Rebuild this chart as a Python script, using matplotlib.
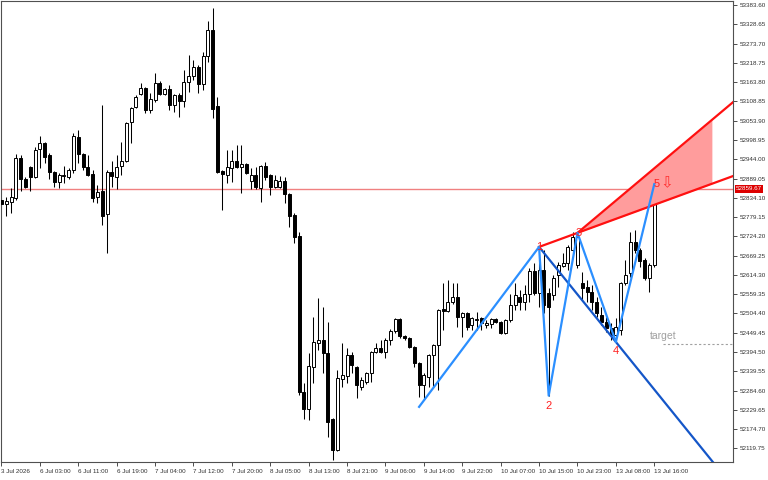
import numpy as np
import matplotlib
matplotlib.use('Agg')
import matplotlib.pyplot as plt

plt.rcParams['font.family'] = ['Liberation Sans', 'DejaVu Sans']

# H1 candles (open, high, low, close)
opens = [52828, 52816, 52822, 52834, 52948, 52888, 52922, 52893, 52973, 52990,
         52956, 52908, 52879, 52896, 52893, 52913, 53007, 52959, 52922, 52902,
         52836, 52854, 52788, 52908, 52893, 52925, 52939, 53050, 53093, 53130,
         53147, 53084, 53113, 53161, 53130, 53144, 53099, 53127, 53110, 53164,
         53181, 53207, 53159, 53238, 53312, 53096, 52910, 52899, 52919, 52939,
         52922, 52930, 52882, 52899, 52862, 52925, 52899, 52865, 52865, 52882,
         52845, 52785, 52725, 52280, 52232, 52352, 52420, 52429, 52392, 52203,
         52115, 52317, 52326, 52386, 52352, 52295, 52309, 52335, 52394, 52406,
         52394, 52429, 52454, 52489, 52440, 52434, 52409, 52363, 52300, 52323,
         52386, 52414, 52517, 52511, 52537, 52551, 52494, 52506, 52471, 52486,
         52491, 52471, 52474, 52489, 52480, 52449, 52486, 52528, 52551, 52537,
         52560, 52625, 52563, 52628, 52563, 52557, 52614, 52640, 52648, 52685,
         52643, 52591, 52580, 52565, 52537, 52500, 52480, 52463, 52443, 52457,
         52591, 52620, 52708, 52685, 52657, 52605, 52643, 52848]
highs = [52834, 52836, 52862, 52959, 52956, 52893, 52925, 52979, 53010, 52993,
         52962, 52911, 52905, 52925, 52919, 53019, 53027, 52962, 52956, 52913,
         52871, 53099, 52913, 52939, 52956, 52993, 53050, 53093, 53127, 53161,
         53150, 53133, 53190, 53167, 53147, 53156, 53130, 53133, 53198, 53241,
         53227, 53213, 53250, 53338, 53375, 53121, 52913, 52970, 52970, 52985,
         52985, 52933, 52919, 52922, 52928, 52936, 52902, 52899, 52896, 52893,
         52848, 52791, 52737, 52306, 52392, 52494, 52548, 52523, 52480, 52206,
         52343, 52420, 52406, 52394, 52355, 52323, 52338, 52397, 52420, 52429,
         52434, 52460, 52491, 52491, 52443, 52437, 52412, 52366, 52335, 52389,
         52417, 52517, 52591, 52600, 52591, 52591, 52508, 52508, 52494, 52508,
         52494, 52486, 52491, 52491, 52483, 52489, 52560, 52591, 52571, 52585,
         52634, 52648, 52694, 52685, 52577, 52614, 52651, 52677, 52700, 52737,
         52734, 52623, 52600, 52585, 52551, 52523, 52494, 52477, 52491, 52594,
         52657, 52737, 52742, 52691, 52662, 52648, 52871, 52865]
lows = [52811, 52782, 52791, 52828, 52854, 52862, 52854, 52891, 52919, 52933,
        52888, 52865, 52862, 52876, 52888, 52905, 52933, 52913, 52896, 52822,
        52819, 52757, 52677, 52865, 52859, 52899, 52936, 52990, 53090, 53127,
        53076, 53076, 53107, 53127, 53127, 53084, 53079, 53064, 53093, 53136,
        53170, 53133, 53141, 53221, 53062, 52905, 52799, 52876, 52879, 52919,
        52848, 52902, 52859, 52859, 52822, 52885, 52842, 52862, 52862, 52819,
        52751, 52705, 52272, 52203, 52201, 52306, 52400, 52335, 52152, 52087,
        52112, 52295, 52306, 52335, 52263, 52286, 52303, 52309, 52392, 52392,
        52377, 52414, 52449, 52434, 52429, 52406, 52352, 52266, 52258, 52295,
        52295, 52286, 52457, 52508, 52531, 52466, 52437, 52457, 52457, 52457,
        52457, 52463, 52463, 52477, 52446, 52446, 52480, 52514, 52514, 52514,
        52537, 52557, 52523, 52506, 52270, 52543, 52580, 52637, 52628, 52671,
        52634, 52543, 52537, 52514, 52494, 52471, 52452, 52429, 52420, 52443,
        52585, 52608, 52677, 52637, 52600, 52565, 52637, 52848]
closes = [52816, 52825, 52836, 52948, 52888, 52865, 52893, 52970, 52990, 52950,
          52908, 52879, 52899, 52899, 52913, 53010, 52959, 52922, 52899, 52834,
          52851, 52782, 52908, 52896, 52922, 52939, 53047, 53090, 53121, 53147,
          53084, 53116, 53161, 53130, 53144, 53099, 53127, 53110, 53164, 53181,
          53207, 53159, 53238, 53312, 53087, 52908, 52902, 52922, 52939, 52922,
          52930, 52905, 52899, 52865, 52925, 52893, 52865, 52885, 52882, 52845,
          52782, 52722, 52280, 52232, 52355, 52423, 52429, 52392, 52195, 52115,
          52320, 52329, 52386, 52357, 52300, 52315, 52335, 52394, 52406, 52394,
          52429, 52454, 52489, 52440, 52434, 52409, 52363, 52300, 52329, 52386,
          52414, 52514, 52511, 52537, 52551, 52494, 52506, 52466, 52491, 52489,
          52477, 52477, 52489, 52480, 52449, 52486, 52528, 52557, 52537, 52560,
          52625, 52563, 52628, 52528, 52523, 52605, 52643, 52648, 52694, 52722,
          52722, 52577, 52565, 52537, 52506, 52480, 52463, 52443, 52466, 52591,
          52614, 52708, 52685, 52654, 52605, 52643, 52848, 52859.67]

# pattern pivots X,1,2,3,4,5 (bar index, price)
piv_idx = [87, 112, 114, 120, 128, 136]
piv_price = [52238, 52694, 52270, 52734, 52423, 52873]
piv_names = ['', '1', '2', '3', '4', '5']
upper_slope = 11.5      # price per bar of the upper red ray
fill_end = 148          # bar where the red zone stops
target = 52417
last_price = 52859.67

x_labels = ['3 Jul 2026', '6 Jul 03:00', '6 Jul 11:00', '6 Jul 19:00', '7 Jul 04:00',
            '7 Jul 12:00', '7 Jul 20:00', '8 Jul 05:00', '8 Jul 13:00', '8 Jul 21:00',
            '9 Jul 06:00', '9 Jul 14:00', '9 Jul 22:00', '10 Jul 07:00', '10 Jul 15:00',
            '10 Jul 23:00', '13 Jul 08:00', '13 Jul 16:00']
y_ticks = [53383.60, 53328.65, 53273.70, 53218.75, 53163.80, 53108.85, 53053.90,
           52998.95, 52944.00, 52889.05, 52834.10, 52779.15, 52724.20, 52669.25,
           52614.30, 52559.35, 52504.40, 52449.45, 52394.50, 52339.55, 52284.60,
           52229.65, 52174.70, 52119.75]

x_min, x_max = -0.1, 152.4
y_min, y_max = 52080.8, 53395.1

fig = plt.figure(figsize=(7.68, 4.8), dpi=100)
ax = fig.add_axes([1/768, 18/480, 732/768, 461/480])

# candles
n = len(opens)
for i in range(n):
    o, h, l, c = opens[i], highs[i], lows[i], closes[i]
    ax.vlines(i, l, h, color='black', lw=0.75, zorder=2)
    body_lo = min(o, c)
    body_h = max(abs(c - o), 1.5)
    fc = 'white' if c >= o else 'black'
    ax.bar(i, body_h, 0.62, bottom=body_lo, facecolor=fc, edgecolor='black',
           lw=0.7, zorder=3)

# current price line
ax.axhline(last_price, color='#f08080', lw=1, zorder=1)

# red zone
x1, x3 = piv_idx[1], piv_idx[3]
p1, p3 = piv_price[1], piv_price[3]
low_slope = (p3 - p1) / (x3 - x1)
xf = np.array([x3, fill_end])
ax.fill_between(xf, p3 + low_slope * (xf - x3), p3 + upper_slope * (xf - x3),
                color='#ff9c9c', lw=0, zorder=4)
ax.plot([x1, x_max], [p1, p1 + low_slope * (x_max - x1)], color='#ff1010', lw=1.6, zorder=6)
ax.plot([x3, x_max], [p3, p3 + upper_slope * (x_max - x3)], color='#ff1010', lw=1.6, zorder=6)

# dark blue line through 1 and 4
x4, p4 = piv_idx[4], piv_price[4]
s14 = (p4 - p1) / (x4 - x1)
ax.plot([x1, x_max], [p1, p1 + s14 * (x_max - x1)], color='#1456c8', lw=1.6, zorder=5)

# zigzag
ax.plot(piv_idx, piv_price, color='#2b8fff', lw=1.6, zorder=7)

# pivot numbers
offs = {'1': (0, 0), '2': (0, -4), '3': (1, 0), '4': (0, -3), '5': (1.5, 0)}
for k in range(1, 6):
    name = piv_names[k]
    va = 'top' if name in ('2', '4') else 'center'
    ax.annotate(name, (piv_idx[k], piv_price[k]), xytext=offs[name],
                textcoords='offset points', ha='center', va=va,
                color='#ff2020', fontsize=8, zorder=8)
ax.annotate('\u21e9', (piv_idx[5], piv_price[5]), xytext=(9, 1),
            textcoords='offset points', ha='center', va='center',
            color='#ff3030', fontsize=11, family=['DejaVu Sans'], zorder=8)

# target
ax.plot([137.8, x_max], [target, target], color='#a0a0a0', lw=0.8,
        ls=(0, (2, 2)), zorder=4)
ax.text(135, target + 8, 'target', color='#a0a0a0', fontsize=7.5,
        ha='left', va='bottom', zorder=8)

ax.set_xlim(x_min, x_max)
ax.set_ylim(y_min, y_max)

ax.set_xticks(np.arange(0, 8 * len(x_labels), 8))
ax.set_xticklabels(x_labels, ha='left')
ax.yaxis.tick_right()
ax.set_yticks(y_ticks)
ax.set_yticklabels(['%.2f' % v for v in y_ticks])
ax.tick_params(axis='both', direction='out', length=3, width=0.6,
               labelsize=4.5, colors='#303030')
ax.tick_params(axis='x', pad=2)
ax.tick_params(axis='y', pad=1.5)
for sp in ax.spines.values():
    sp.set_color('#505050')
    sp.set_linewidth(0.8)

# last price tag on the axis
ax.text(1.004, last_price, '%.2f' % last_price, transform=ax.get_yaxis_transform(),
        ha='left', va='center', fontsize=4.5, color='white', clip_on=False,
        bbox=dict(boxstyle='square,pad=0.2', fc='#dd0000', ec='none'))

fig.savefig('out.png', dpi=100)
